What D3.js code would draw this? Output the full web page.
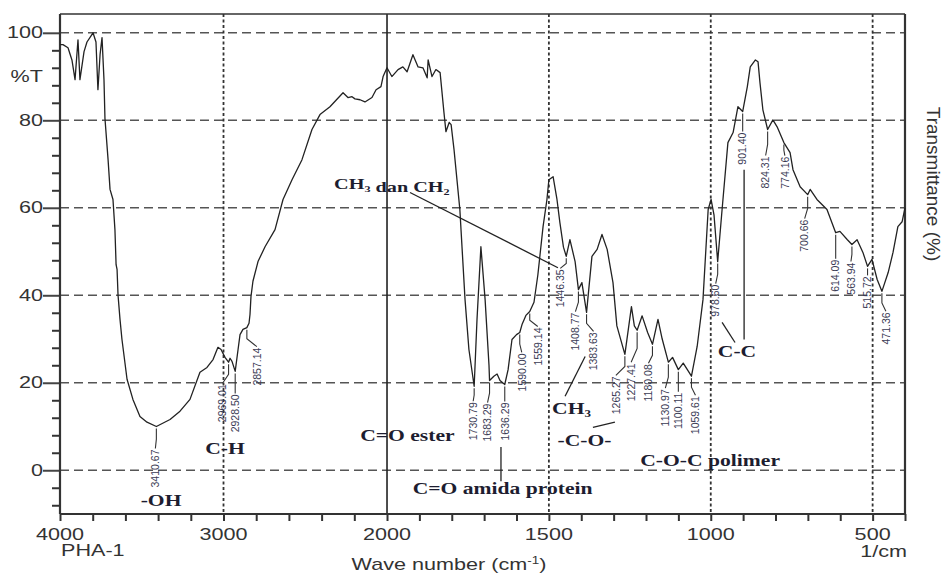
<!DOCTYPE html>
<html>
<head>
<meta charset="utf-8">
<script src="https://cdn.jsdelivr.net/npm/d3@7"></script>
<style>
  body { margin: 0; background: #fff; }
  svg { display: block; }
</style>
</head>
<body>
<div id="chart"></div>
<script>
// FTIR spectrum of PHA-1 (wavenumber cm-1 / %T)
const wavenumbers = [
  4000, 3982, 3951, 3927, 3908, 3890, 3878, 3853, 3835, 3810, 3798, 3780, 3768, 3755, 3743, 3731,
  3725, 3706, 3694, 3676, 3664, 3657, 3651, 3645, 3633, 3621, 3590, 3554, 3511, 3468, 3410.67, 3327,
  3266, 3205, 3144, 3101, 3064, 3034, 3015, 2991, 2969.01, 2960, 2948, 2928.5, 2911, 2899, 2881, 2857.14,
  2844, 2838, 2832, 2820, 2789, 2746, 2685, 2636, 2581, 2520, 2459, 2410, 2349, 2269, 2239, 2214,
  2196, 2165, 2135, 2092, 2067, 2037, 2024, 2000, 1985, 1966, 1951, 1938, 1920, 1904, 1889, 1876,
  1873, 1861, 1849, 1836, 1824, 1818, 1808, 1802, 1793, 1775, 1759, 1747, 1730.79, 1722, 1710, 1697,
  1685, 1683.29, 1670, 1660, 1651, 1636.29, 1626, 1614, 1600, 1590, 1583, 1571, 1559.14, 1546, 1534, 1518,
  1506, 1500, 1487, 1475, 1466, 1455, 1446.35, 1435, 1419, 1408.77, 1398, 1383.63, 1367, 1351, 1336, 1320,
  1302, 1290, 1265.27, 1245, 1236, 1227.41, 1212, 1195, 1180.08, 1163, 1150, 1130.97, 1118, 1100.11, 1085, 1059.61,
  1042, 1024, 1008, 999, 990, 978.6, 965, 947, 931, 916, 901.4, 887, 878, 862, 854, 848,
  839, 824.31, 808, 795, 774.16, 755, 746, 724, 700.66, 693, 672, 641, 614.09, 601, 578, 563.94,
  548, 530, 515.72, 502, 486, 471.36, 452, 437, 422, 409, 400
];
const transmittance = [
  97.3, 97.3, 96.6, 93.8, 89.3, 98.4, 89.3, 95.7, 97.9, 99.3, 100, 97.9, 87.0, 95, 98.9, 89.3,
  80.4, 71, 64.2, 61.9, 55, 47, 45.9, 40, 34.5, 29.9, 20.8, 16.2, 12.3, 11, 10.0, 11.6,
  13.5, 16.2, 22.4, 23.5, 25.3, 28.1, 27.6, 25.8, 24.7, 25.6, 24.9, 22.6, 27.6, 31, 32.2, 32.6,
  33.6, 35.6, 39.7, 43.2, 47.7, 51.1, 55, 61.9, 66.4, 71, 77.9, 81.3, 83.1, 86.3, 85.2, 85.4,
  84.9, 84.7, 84.2, 85.2, 87, 87.7, 90, 92, 90, 91.6, 92.2, 91.1, 95, 92.2, 92, 89.7,
  93.8, 90, 91.6, 90.9, 81.7, 77.4, 79.5, 79, 73.3, 59.6, 39, 27.6, 19.2, 34.5, 51.1, 39,
  24, 20.5, 21.5, 22, 20.5, 19.6, 23, 29.9, 31, 31.5, 33.3, 35.4, 36.3, 38.4, 44.7, 55.7,
  61.9, 66.4, 67.1, 61.9, 56.6, 51, 48.9, 52.7, 47.7, 41.3, 42.9, 36.1, 48.9, 50.5, 53.9, 50.5,
  42.9, 33, 26.5, 37.4, 33, 32, 35.3, 31.5, 28.8, 34.5, 30, 24.7, 25.8, 23, 24.5, 21.5,
  28.3, 39, 59.6, 61.9, 58.4, 47.7, 59.6, 74.9, 77.2, 83.1, 82, 87.7, 92.2, 93.8, 93.4, 88.6,
  82.4, 77.9, 80.1, 78.5, 74.9, 72.6, 68.7, 64.8, 63, 64.2, 61.9, 59.6, 54.3, 54.6, 52.7, 51.6,
  52.7, 49.8, 46.6, 48.2, 43.6, 40.9, 45.2, 49.8, 55.7, 56.8, 60
];

// labelled peaks
const peakWavenumbers = [3410.67, 2969.01, 2928.50, 2857.14, 1730.79, 1683.29, 1636.29, 1590.00, 1559.14,
  1446.35, 1408.77, 1383.63, 1265.27, 1227.41, 1180.08, 1130.97, 1100.11, 1059.61, 978.60, 901.40,
  824.31, 774.16, 700.66, 614.09, 563.94, 515.72, 471.36];
const peakLabels = peakWavenumbers.map(d => d.toFixed(2));

const yTickValues = [0, 20, 40, 60, 80, 100];
const yTickLabels = ["0", "20", "40", "60", "80", "100"];
const xTickValues = [4000, 3000, 2000, 1500, 1000, 500];
const xTickLabels = ["4000", "3000", "2000", "1500", "1000", "500"];

const assignmentTexts = ["-OH", "C-H", "C=O ester", "C=O amida protein", "CH3", "-C-O-", "C-O-C polimer", "C-C", "CH3 dan CH2"];

// ---- layout (pixel offsets / anchors in axis units) ----
const labelDx  = [-1, -6, 0, 10, -1, -2, 0, 2, 8, -6, -3, 7, -9, -6, -4, -3, 0, 4, -2, 0, -2, 1, -3, 0, -1, 0, 4];
const labelGap = [23, 22, 23, 20, 16, 23, 18, 21, 16, 13, 23, 20, 22, 33, 20, 27, 23, 20, 23, 21, 27, 14, 25, 27, 18, 10, 21];
const assignmentAnchors = [[3382, -8.2], [2991, 3.7], [1937, 6.6], [1643, -5.5], [1430, 12.8], [1390, 5.5], [1002, 0.9], [919, 25.8], [1985, 64.2]];
const pointerLines = [
  [[1929, 63.5], [1472, 46.3]],
  [[1450, 16.9], [1388, 26.0]],
  [[1364, 9.8], [1296, 11.0]],
  [[1648, 5.3], [1648, -2.5]],
  [[897, 68.7], [897, 29.9]],
  [[965, 33.8], [925, 29.2]]
];

const W = 947, H = 578;
const plotL = 60, plotR = 905, plotT = 14, plotB = 514;
const breakX = plotL + (plotR - plotL) * 0.387;
const SX = 1.35; // horizontal stretch of the scanned text

const svg = d3.select("#chart").append("svg")
  .attr("width", W).attr("height", H)
  .style("font-family", "'Liberation Sans', Arial, sans-serif");

// Shimadzu style: 2x expansion below 2000 cm-1
const x = d3.scaleLinear().domain([4000, 2000, 400]).range([plotL, breakX, plotR]);
const y = d3.scaleLinear().domain([-10, 104.3]).range([plotB, plotT]);

const grid = svg.append("g");
grid.selectAll("line.h").data(yTickValues).enter().append("line")
  .attr("x1", plotL).attr("x2", plotR)
  .attr("y1", d => y(d)).attr("y2", d => y(d))
  .attr("stroke", "#555").attr("stroke-width", 1.6).attr("stroke-dasharray", "9,5");
grid.selectAll("line.v").data([3000, 1500, 1000, 500]).enter().append("line")
  .attr("x1", d => x(d)).attr("x2", d => x(d))
  .attr("y1", plotT).attr("y2", plotB)
  .attr("stroke", "#333").attr("stroke-width", 1.8).attr("stroke-dasharray", "3,2.5");
grid.append("line")
  .attr("x1", x(2000)).attr("x2", x(2000)).attr("y1", plotT).attr("y2", plotB)
  .attr("stroke", "#222").attr("stroke-width", 1.6);

// ticks
const minorX = d3.range(4000, 2000, -200).concat(d3.range(2000, 399, -100));
svg.append("g").attr("transform", `translate(0,${plotB})`)
  .call(d3.axisBottom(x).tickValues(minorX).tickSize(7).tickFormat(""))
  .call(g => g.select(".domain").remove())
  .selectAll("line").attr("stroke", "#333").attr("stroke-width", 2);

const minorY = d3.range(-8, 104, 4);
svg.append("g").attr("transform", `translate(${plotL},0)`)
  .call(d3.axisLeft(y).tickValues(minorY.filter(d => d % 20 !== 0)).tickSize(8).tickFormat(""))
  .call(g => g.select(".domain").remove())
  .selectAll("line").attr("stroke", "#333").attr("stroke-width", 2);
svg.append("g").attr("transform", `translate(${plotL},0)`)
  .call(d3.axisLeft(y).tickValues(yTickValues).tickSize(17).tickFormat(""))
  .call(g => g.select(".domain").remove())
  .selectAll("line").attr("stroke", "#444").attr("stroke-width", 2);

function stretched(g, px, py, txt, anchor, size, fam, weight, fill) {
  return g.append("text")
    .attr("transform", `translate(${px},${py}) scale(${SX},1)`)
    .attr("text-anchor", anchor)
    .attr("font-size", size + "px")
    .attr("font-family", fam || null)
    .attr("font-weight", weight || null)
    .attr("fill", fill || "#333")
    .text(txt);
}

const labels = svg.append("g");
xTickValues.forEach((v, i) => stretched(labels, x(v), 540, xTickLabels[i], "middle", 16));
yTickValues.forEach((v, i) => stretched(labels, 43, y(v) + 5.5, yTickLabels[i], "end", 16));
stretched(labels, 43, y(90) + 5.5, "%T", "end", 16);
stretched(labels, plotL + 1, 556, "PHA-1", "start", 16);
stretched(labels, plotR + 2, 557, "1/cm", "end", 16);

const xt = stretched(labels, 449, 570, "", "middle", 16);
xt.append("tspan").text("Wave number (cm");
xt.append("tspan").attr("font-size", "10px").attr("dy", -6).text("-1");
xt.append("tspan").attr("dy", 6).text(")");

svg.append("text")
  .attr("transform", `translate(927,184) rotate(90)`)
  .attr("text-anchor", "middle")
  .attr("font-size", "19px").attr("fill", "#333")
  .text("Transmittance (%)");

// frame
const frame = svg.append("g").attr("stroke", "#333").attr("fill", "none");
frame.append("line").attr("x1", plotL).attr("x2", plotL).attr("y1", plotT).attr("y2", plotB).attr("stroke-width", 2.2);
frame.append("line").attr("x1", plotL).attr("x2", plotR).attr("y1", plotB).attr("y2", plotB).attr("stroke-width", 2.2);
frame.append("line").attr("x1", plotL).attr("x2", plotR).attr("y1", plotT).attr("y2", plotT).attr("stroke-width", 1.3);
frame.append("line").attr("x1", plotR).attr("x2", plotR).attr("y1", plotT).attr("y2", plotB).attr("stroke-width", 2.2);

// spectrum
const data = wavenumbers.map((w, i) => ({ w, t: transmittance[i] }));
const line = d3.line().x(d => x(d.w)).y(d => y(d.t));
svg.append("path").datum(data)
  .attr("d", line)
  .attr("fill", "none").attr("stroke", "#222").attr("stroke-width", 1.3)
  .attr("stroke-linejoin", "round");

// peak labels with small leaders
const tAt = w => {
  const i = data.findIndex(d => d.w <= w);
  if (i <= 0) return data[0].t;
  const a = data[i - 1], b = data[i];
  return a.t + (b.t - a.t) * (a.w - w) / (a.w - b.w);
};
const peaks = svg.append("g");
peakWavenumbers.forEach((w, i) => {
  const px = x(w), py = y(tAt(w));
  const lx = px + labelDx[i], ly = py + labelGap[i];
  peaks.append("path")
    .attr("d", `M${px},${py + 2}L${px},${py + labelGap[i] * 0.55}L${lx},${ly - 1}`)
    .attr("fill", "none").attr("stroke", "#333").attr("stroke-width", 1.1);
  peaks.append("text")
    .attr("transform", `translate(${lx},${ly}) rotate(-90)`)
    .attr("text-anchor", "end").attr("dy", "0.36em")
    .attr("font-size", "10.5px").attr("fill", "#3b3b55")
    .text(peakLabels[i]);
});

// functional group assignments
const notes = svg.append("g");
pointerLines.forEach(p => {
  notes.append("line")
    .attr("x1", x(p[0][0])).attr("y1", y(p[0][1]))
    .attr("x2", x(p[1][0])).attr("y2", y(p[1][1]))
    .attr("stroke", "#222").attr("stroke-width", 1.3);
});
const serif = "'Liberation Serif', 'Times New Roman', serif";
assignmentTexts.forEach((t, i) => {
  const [aw, at] = assignmentAnchors[i];
  const size = i === 8 ? 15 : 16;
  const el = stretched(notes, x(aw), y(at), "", "middle", size, serif, "bold", "#1d1d30");
  // digits after CH are subscripts
  const parts = t.split(/(\d)/);
  parts.forEach((part, k) => {
    if (!part) return;
    if (/^\d$/.test(part) && /CH$/.test(parts.slice(0, k).join(""))) {
      el.append("tspan").attr("font-size", "0.6em").attr("dy", 3).text(part);
      el.append("tspan").attr("dy", -3).text("");
    } else {
      el.append("tspan").text(part);
    }
  });
});
</script>
</body>
</html>
